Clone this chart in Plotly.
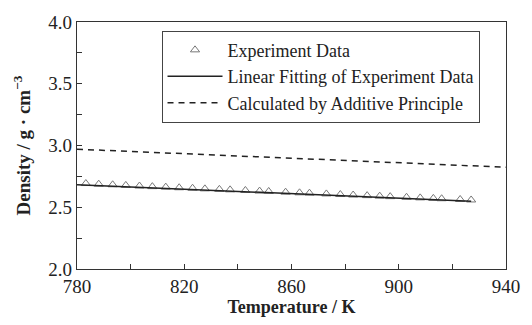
import plotly.graph_objects as go

# Experimental data (Temperature K, Density g/cm3)
exp_T = [783.3, 788.1, 793.3, 798.2, 803.3, 808.1, 813.1, 818.1, 823.1, 827.7,
         833.1, 837.1, 842.8, 848.1, 851.5, 857.8, 863.0, 866.7, 873.0, 878.2,
         883.0, 888.2, 892.9, 896.8, 902.9, 908.0, 912.9, 916.0, 922.9, 927.0]
exp_rho = [2.692, 2.687, 2.682, 2.677, 2.672, 2.667, 2.663, 2.658, 2.654, 2.649,
           2.645, 2.641, 2.636, 2.631, 2.628, 2.622, 2.617, 2.614, 2.608, 2.603,
           2.599, 2.594, 2.590, 2.586, 2.581, 2.576, 2.572, 2.569, 2.563, 2.559]

# Linear fitting of experiment data
fit_T = [780, 927]
fit_rho = [2.683, 2.549]

# Calculated by additive principle
calc_T = [780, 940]
calc_rho = [2.970, 2.824]

x_tickvals = [780, 820, 860, 900, 940]
x_ticktext = ["780", "820", "860", "900", "940"]
y_tickvals = [2.0, 2.5, 3.0, 3.5, 4.0]
y_ticktext = ["2.0", "2.5", "3.0", "3.5", "4.0"]

FONT = "Liberation Serif"

fig = go.Figure()
fig.add_trace(go.Scatter(
    x=exp_T, y=exp_rho, mode="markers", name="Experiment Data",
    marker=dict(symbol="triangle-up-open", size=8, color="#777777",
                line=dict(width=1, color="#777777")),
))
fig.add_trace(go.Scatter(
    x=fit_T, y=fit_rho, mode="lines", name="Linear Fitting of Experiment Data",
    line=dict(color="#222222", width=1.5),
))
fig.add_trace(go.Scatter(
    x=calc_T, y=calc_rho, mode="lines", name="Calculated by Additive Principle",
    line=dict(color="#222222", width=1.5, dash="6px,5px"),
))

axis_common = dict(
    showline=True, linecolor="#333333", linewidth=1.2, mirror=True,
    ticks="inside", ticklen=5, tickcolor="#333333", tickwidth=1,
    showgrid=False, zeroline=False,
    tickfont=dict(family=FONT, size=19, color="#222222"),
)

fig.update_layout(
    width=532, height=325,
    margin=dict(l=77, r=17, t=15, b=56),
    paper_bgcolor="white", plot_bgcolor="white",
    font=dict(family=FONT, color="#222222"),
    xaxis=dict(range=[780, 940], tickmode="array", tickvals=x_tickvals,
               ticktext=x_ticktext,
               minor=dict(ticks="inside", dtick=20, ticklen=5, tickcolor="#333333"),
               title=dict(text="<b>Temperature / K</b>",
                          font=dict(family=FONT, size=18), standoff=2),
               **axis_common),
    yaxis=dict(range=[2.0, 4.0], tickmode="array", tickvals=y_tickvals,
               ticktext=y_ticktext,
               minor=dict(ticks="inside", dtick=0.25, ticklen=5, tickcolor="#333333"),
               title=dict(text="<b>Density / g · cm<sup>−3</sup></b>",
                          font=dict(family=FONT, size=19), standoff=12),
               **axis_common),
    legend=dict(x=0.197, y=0.965, xanchor="left", yanchor="top",
                bordercolor="#444444", borderwidth=1, bgcolor="white",
                font=dict(family=FONT, size=18, color="#222222"),
                tracegroupgap=0, itemwidth=55),
    showlegend=True,
)

fig.write_html("out.html")
